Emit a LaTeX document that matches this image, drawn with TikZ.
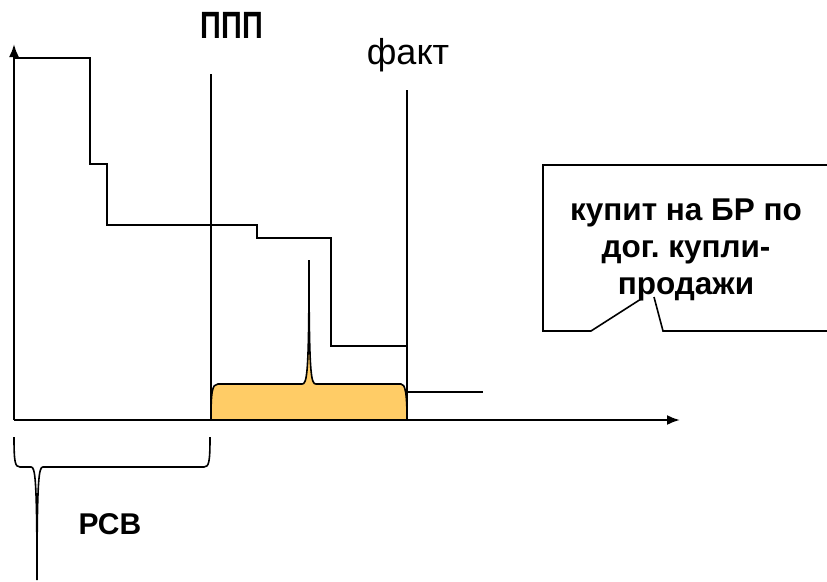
\documentclass[tikz,border=0pt]{standalone}
\usepackage{fontspec}
\usetikzlibrary{arrows.meta}
\setmainfont{Liberation Sans}
\newfontfamily\narrowsans[FakeStretch=0.76]{Liberation Sans}
\definecolor{bracefill}{RGB}{255,204,102}
\frenchspacing

\begin{document}
\begin{tikzpicture}[x=1pt,y=-1pt]
    \tikzstyle{axis}=[line width=2.2pt,-{Latex[length=13pt,width=10pt]}]
    \tikzstyle{stair}=[line width=2.2pt]
    \tikzstyle{mark line}=[line width=2.2pt]
    \tikzstyle{brace}=[line width=1.6pt]
    \tikzstyle{label}=[inner sep=0pt]
    \useasboundingbox (0,0) rectangle (827,581);
    % axes
    \coordinate (o) at (14,420);
    \coordinate (ytip) at (14,44);
    \coordinate (xtip) at (680,420);
    \draw[axis] (o) -- (ytip);
    \draw[axis] (o) -- (xtip);
    % stairs
    \draw[stair] (14,58) -- (90,58) -- (90,164) -- (107,164) -- (107,225)
        -- (257,225) -- (257,238) -- (331,238) -- (331,346) -- (407,346);
    \draw[stair] (407,392) -- (483,392);
    % brace over the interval
    \draw[brace,fill=bracefill] (211,420) .. controls (211,392) and (212,384) .. (218,384)
        -- (302,384) .. controls (307,384) and (309,376) .. (309,260)
        .. controls (309,376) and (311,384) .. (316,384)
        -- (401,384) .. controls (405,384) and (407,392) .. (407,420) -- cycle;
    % vertical marks
    \draw[mark line] (211,74) -- (211,420);
    \draw[mark line] (407,90) -- (407,420);
    \node[label,font=\narrowsans\bfseries\fontsize{38}{40}\selectfont] (ppp) at (232,25) {ППП};
    \node[label,font=\fontsize{36}{40}\selectfont] (fact) at (408,55) {факт};
    % brace under the axis
    \draw[brace] (14,437) .. controls (14,462) and (15,467) .. (20,467)
        -- (31,467) .. controls (35,467) and (37,476) .. (37,580)
        .. controls (37,476) and (39,467) .. (43,467)
        -- (204,467) .. controls (209,467) and (210,462) .. (210,437);
    \node[label,font=\bfseries\fontsize{30}{32}\selectfont] (rsv) at (110,524) {РСВ};
    % callout
    \draw[stair,line width=1.6pt] (830,165) -- (543,165) -- (543,331) -- (591,331) -- (641,299);
    \draw[stair,line width=1.6pt] (654,297) -- (663,331) -- (830,331);
    \node[label,align=center,font=\bfseries\fontsize{31.5}{37}\selectfont] (buy) at (686,250)
        {купит на БР по\\дог. купли-\\продажи};
\end{tikzpicture}
\end{document}
